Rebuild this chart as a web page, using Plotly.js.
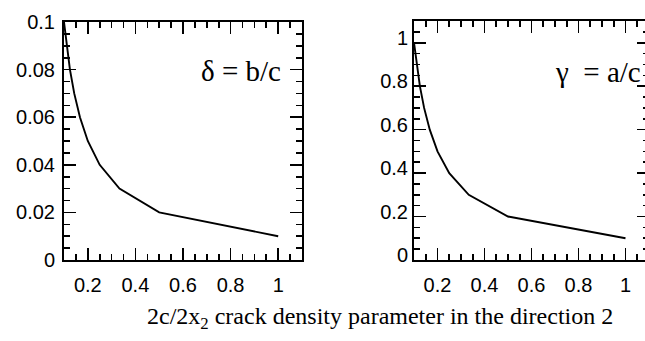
<!DOCTYPE html>
<html>
<head>
<meta charset="utf-8">
<script src="https://cdn.plot.ly/plotly-3.0.1.min.js"></script>
<style>
html, body { margin: 0; padding: 0; overflow: hidden; background: #fff; width: 645px; height: 341px; }
#chart { width: 650px; height: 341px; }
</style>
</head>
<body>
<div id="chart"></div>
<script>
// crack density parameter 2c/2x2
const crackDensity = [0.1, 0.111, 0.125, 0.143, 0.167, 0.2, 0.25, 0.333, 0.5, 1.0];
// delta = b/c
const deltaValues = [0.1, 0.09, 0.08, 0.07, 0.06, 0.05, 0.04, 0.03, 0.02, 0.01];
// gamma = a/c
const gammaValues = [1.0, 0.9, 0.8, 0.7, 0.6, 0.5, 0.4, 0.3, 0.2, 0.1];
const xTickVals = [0.2, 0.4, 0.6, 0.8, 1];
const xTickText = ['0.2', '0.4', '0.6', '0.8', '1'];
const deltaTickVals = [0, 0.02, 0.04, 0.06, 0.08, 0.1];
const deltaTickText = ['0', '0.02', '0.04', '0.06', '0.08', '0.1'];
const gammaTickVals = [0, 0.2, 0.4, 0.6, 0.8, 1];
const gammaTickText = ['0', '0.2', '0.4', '0.6', '0.8', '1'];

const W = 650, H = 341;
const tickFont = { family: 'Liberation Sans, Arial, sans-serif', size: 20, color: '#000' };
const serif = 'Liberation Serif, Times New Roman, serif';

function axisBase(extra) {
  return Object.assign({
    showline: true, linecolor: '#000', linewidth: 2, mirror: 'allticks',
    ticks: 'inside', ticklen: 12, tickwidth: 1.7, tickcolor: '#000',
    showgrid: false, zeroline: false, tickfont: tickFont, automargin: false,
    fixedrange: true, tickmode: 'array', tickangle: 0
  }, extra);
}
function minorTicks(d) {
  return { dtick: d, tick0: 0, ticks: 'inside', ticklen: 6, tickwidth: 1.6, tickcolor: '#000', showgrid: false };
}

const traces = [
  { x: crackDensity, y: deltaValues, xaxis: 'x', yaxis: 'y', mode: 'lines',
    line: { color: '#000', width: 1.9 }, hoverinfo: 'skip' },
  { x: crackDensity, y: gammaValues, xaxis: 'x2', yaxis: 'y2', mode: 'lines',
    line: { color: '#000', width: 1.9 }, hoverinfo: 'skip' }
];

const layout = {
  width: W, height: H,
  margin: { l: 0, r: 0, t: 0, b: 0 },
  paper_bgcolor: '#fff', plot_bgcolor: '#fff',
  showlegend: false,
  xaxis: axisBase({ domain: [64 / W, 302 / W], range: [0.1, 1.1], tickvals: xTickVals, ticktext: xTickText,
    anchor: 'y', ticklabelstandoff: 6, minor: minorTicks(0.05) }),
  yaxis: axisBase({ domain: [(H - 260) / H, (H - 22) / H], range: [0, 0.1], tickvals: deltaTickVals, ticktext: deltaTickText,
    anchor: 'x', ticklabelstandoff: 3, minor: minorTicks(0.005) }),
  xaxis2: axisBase({ domain: [414 / W, 649 / W], range: [0.1, 1.1], tickvals: xTickVals, ticktext: xTickText,
    anchor: 'y2', ticklabelstandoff: 6, minor: minorTicks(0.05) }),
  yaxis2: axisBase({ domain: [(H - 260) / H, (H - 21) / H], range: [0, 1.1], tickvals: gammaTickVals, ticktext: gammaTickText,
    anchor: 'x2', ticklabelshift: -5, minor: minorTicks(0.05) }),
  annotations: [
    { xref: 'paper', yref: 'paper', x: 380 / W, y: (H - 318) / H, xanchor: 'center', yanchor: 'middle',
      showarrow: false, text: '2c/2x<sub>2</sub> crack density parameter in the direction 2',
      font: { family: serif, size: 24, color: '#000' } },
    { xref: 'paper', yref: 'paper', x: 283 / W, y: (H - 71) / H, xanchor: 'right', yanchor: 'middle',
      showarrow: false, text: 'δ = b/c', font: { family: serif, size: 29, color: '#000' } },
    { xref: 'paper', yref: 'paper', x: 643 / W, y: (H - 72) / H, xanchor: 'right', yanchor: 'middle',
      showarrow: false, text: 'γ\u00a0 = a/c', font: { family: serif, size: 29, color: '#000' } }
  ]
};

Plotly.newPlot('chart', traces, layout, { staticPlot: true, displayModeBar: false });
</script>
</body>
</html>
